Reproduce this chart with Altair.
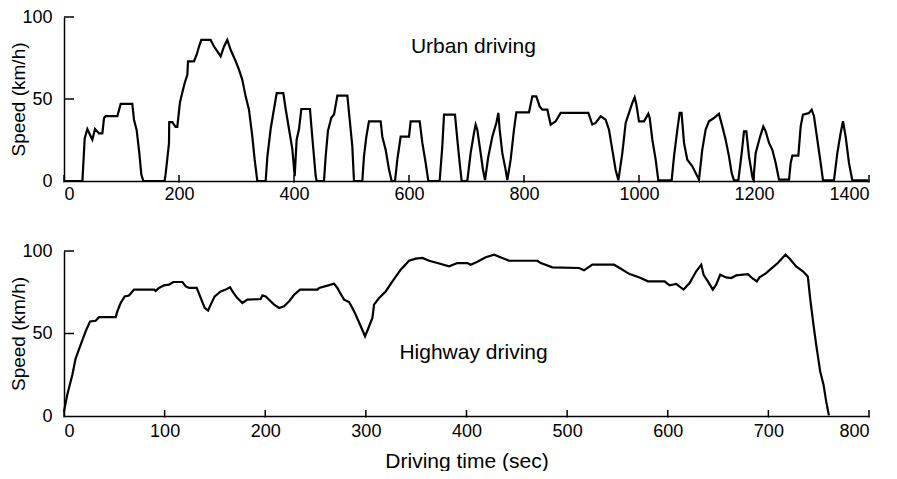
import altair as alt
import pandas as pd

# ---------------- data ----------------
urban_t = [0, 32, 36, 40.6, 49.3, 53.9, 60.9, 66.7, 69.6, 72.5, 92.8, 98.6, 118.8, 121.7, 126.4, 131, 134.5, 138,
           175, 176.8, 182.6, 183, 188.4, 194, 197, 201.7, 205.8, 209.9, 214.5, 215.7, 226.1, 230.7, 234.8, 238.8,
           255, 260.9, 266.7, 272.5, 278.3, 284, 289.8, 298.6, 304.3, 310, 315.9, 321.7, 327.5, 331.6, 336.2,
           350.7, 353.6, 359.4, 365.2, 369.9, 381.4, 385.5, 391.3, 397.1, 401.2, 404.6, 408.7, 412.8, 427.8,
           430.1, 433.6, 437.7, 439.4, 452.2, 455, 459, 464.9, 469.6, 475.4, 492.8, 495.7, 501.4, 504.3,
           518.8, 521.7, 525.8, 530.4, 550.7, 553.6, 559.4, 565.2, 569.8, 575.7, 579.7, 585.5, 600, 602.9,
           618.6, 623.2, 629, 633.6, 653.3, 657.9, 660.9, 680, 684.1, 688.1, 691.6, 701.4, 707.2, 713, 715.9,
           718.8, 724.6, 728.7, 732.2, 738, 744.9, 751.9, 755.4, 757.7, 762.3, 768.1, 771, 776.8, 782.6, 786.7,
           808.7, 814.5, 821.4, 827.2, 831.9, 840.6, 846.4, 855.1, 863.8, 911.9, 918.8, 924.6, 933.3, 942,
           947.8, 953.6, 959.4, 964.1, 971, 976.8, 982.6, 988.4, 992.5, 995.4, 1000, 1008.7, 1016.2, 1018.6,
           1023.2, 1029, 1033.6, 1056.8, 1060.9, 1066.7, 1070.7, 1074, 1078.3, 1084, 1092.8, 1104.3, 1110,
           1115.9, 1121.7, 1130.4, 1139, 1144.9, 1150.7, 1156.5, 1161.2, 1165.2, 1172.8, 1178.6, 1182.6,
           1186.7, 1191.3, 1197, 1198.8, 1202.9, 1209.9, 1216.2, 1220.3, 1226.1, 1231.9, 1237.7, 1243.5,
           1260.9, 1263.8, 1266.7, 1277.1, 1281.2, 1285.2, 1295.7, 1300.3, 1304.3, 1310.1, 1315.9, 1320,
           1339.1, 1344.9, 1350.7, 1354.8, 1359.4, 1365.2, 1371, 1398.8]
urban_v = [0, 0, 26, 31.7, 25.2, 31.7, 29, 29, 38.4, 39.5, 39.5, 47, 47, 37.4, 31, 17, 3.9, 0,
           0, 4.5, 23, 35.9, 35.9, 33, 33, 48, 54, 59.8, 64.8, 73, 73, 77, 82, 86,
           86, 82, 79, 76, 82, 86, 80, 73, 67.9, 61.8, 51.6, 43.5, 27.2, 13, 0,
           0, 14.6, 31.7, 43.9, 53.6, 53.6, 43.9, 31.7, 19.5, 3, 25.2, 31.7, 43.9, 43.9,
           33.8, 19.5, 3, 0, 0, 14.6, 30.5, 38.6, 40.5, 52, 52, 41.5, 21.2, 0,
           0, 15, 27, 36.4, 36.4, 27, 19, 7, 0, 0, 13, 27, 27, 36.4,
           36.4, 23.2, 11, 0, 0, 21, 40.5, 40.5, 25, 11, 0, 0, 17, 29.3, 34.4,
           31.3, 17, 6.7, 0.6, 15, 27, 35.4, 41.5, 31.3, 17, 6.7, 0.6, 13, 31.3, 41.9,
           41.9, 51.6, 51.6, 45.5, 43.5, 43.5, 34.4, 36.4, 41.5, 41.5, 34.4, 35.4, 39.5, 37.4,
           31.3, 19, 6.7, 0.4, 17, 35.4, 41.5, 47.6, 51, 46.6, 36.4, 36.4, 41, 38.4,
           25.2, 13, 0.4, 0.4, 15, 31.3, 41.5, 41.5, 23.2, 13, 9, 0.8, 19,
           31.3, 36.4, 38.4, 41, 33.3, 25.2, 15, 4.8, 0.4, 0.4, 17, 30.3,
           30.3, 15, 2.8, 0.4, 17, 26.2, 33.3, 30.3, 23.2, 19, 11, 0.8,
           0.8, 11, 15.5, 15.5, 33.3, 40.5, 41.5, 43.5, 39.5, 25.2, 11, 0.4,
           0.4, 17, 29.3, 36.4, 27, 11, 0.4, 0.4]

highway_t = [0, 3.3, 8.3, 11.6, 16.6, 21.5, 25.8, 31.5, 34.8, 51.4, 53, 56.3, 60.3, 64.6, 69.6, 89.5, 91.1,
             94.4, 99.4, 104.4, 108.7, 117.7, 121, 124.3, 131.9, 135.9, 139.8, 143.2, 145.8, 149.8, 155.7,
             160.7, 165, 167.3, 171.6, 177.3, 182.2, 195.5, 197.2, 200.5, 203.8, 208.8, 213.8, 218.7, 223.7,
             228.7, 234.6, 251.9, 253.5, 261.8, 268.4, 271.7, 274.4, 278.3, 283.3, 286.6, 289.9, 294.9, 299.2,
             303.2, 306.5, 308.1, 313.1, 319.7, 326.4, 334.6, 342.9, 349.6, 356.2, 362.8, 371.1, 382.7, 391,
             400.9, 404.2, 410.8, 419.1, 427.4, 435.6, 442.3, 470.4, 473.8, 485.4, 511.9, 516.8, 525.1, 546.6,
             552.2, 562.1, 572, 580.3, 596.9, 601.8, 608.4, 615.7, 621.7, 628.3, 633.3, 635.6, 639.9, 644.8,
             648.1, 652.1, 658.1, 663, 668, 679.6, 684.6, 688.5, 691.2, 697.8, 702.8, 709.4, 717, 721, 727.6,
             734.3, 739.2, 741.5, 744.8, 747.5, 751.5, 754.8, 757.4, 760.1]
highway_v = [2.8, 13, 25, 35, 43.2, 51.3, 57.3, 57.7, 59.9, 59.9, 63.4, 68.5, 72.5, 73, 76.6, 76.6, 75.8,
             77.6, 79.2, 79.6, 81.2, 81.2, 78.6, 77.6, 77.6, 71.5, 65.5, 63.9, 67.5, 72.5, 75.5,
             76.6, 78, 75.6, 71.9, 68.5, 70.5, 70.9, 73.1, 72.5, 70.5, 67.5, 65.5, 66.5, 69.5,
             73.5, 76.6, 76.6, 77.6, 79, 80.2, 77.6, 74.6, 70.5, 69.1, 65.5, 61.4, 54.4, 48.3,
             54.4, 59.4, 67.5, 71.5, 75.5, 81.6, 88.7, 94.1, 95.4, 95.8, 94.1, 92.7, 90.7, 92.7,
             92.7, 91.7, 93.5, 96.2, 97.8, 95.8, 94.1, 94.1, 92.7, 90.1, 89.7, 88.3, 91.7, 91.7,
             89.7, 86, 84, 81.6, 81.6, 79.2, 80, 76.6, 80.6, 87.7, 91.7, 85.6, 81.6, 76.6,
             79.6, 85.6, 84, 83.6, 85.2, 86, 83.2, 81.6, 84, 86.6, 89.3, 92.7, 97.8, 95.4, 90.7,
             87.7, 84.6, 71.5, 55.4, 43.2, 27, 19, 9, 0.4]

urban_xticks = [0, 200, 400, 600, 800, 1000, 1200, 1400]
highway_xticks = [0, 100, 200, 300, 400, 500, 600, 700, 800]
speed_ticks = [0, 50, 100]

FONT = "Liberation Sans"
W = 805


def panel(t, v, xmax, xticks, label, label_t, label_v, height, xtitle, label_pad):
    df = pd.DataFrame({"t": t, "v": v})
    xscale = alt.Scale(domain=[0, xmax], nice=False, zero=False)
    yscale = alt.Scale(domain=[0, 100], nice=False)
    if xtitle:
        xaxis = alt.Axis(values=xticks, ticks=False, format="d", title=xtitle, labelPadding=label_pad,
                         titlePadding=10, grid=False)
    else:
        xaxis = alt.Axis(values=xticks, ticks=False, format="d", title=None, labelPadding=label_pad,
                         grid=False)
    yaxis = alt.Axis(values=speed_ticks, ticks=False, format="d", title="Speed (km/h)", labelPadding=12,
                     titleX=-36, titleFontSize=19, grid=False)
    X = alt.X("t:Q", scale=xscale, axis=xaxis)
    Y = alt.Y("v:Q", scale=yscale, axis=yaxis)
    line = alt.Chart(df).mark_line(color="black", strokeWidth=2.2, interpolate="linear").encode(x=X, y=Y)
    # inward-pointing tick marks
    xt = alt.Chart(pd.DataFrame({"t": xticks})).mark_rule(color="black", strokeWidth=1.5).encode(
        x=X,
        y=alt.value(height + 1.5),
        y2=alt.value(height - 6),
    )
    yt = alt.Chart(pd.DataFrame({"v": speed_ticks[1:]})).mark_rule(color="black", strokeWidth=1.5).encode(
        y=Y,
        x=alt.value(0),
        x2=alt.value(10),
    )
    txt = alt.Chart(pd.DataFrame({"t": [label_t], "v": [label_v], "s": [label]})).mark_text(
        font=FONT, fontSize=21, color="black", align="center", baseline="middle"
    ).encode(x=X, y=Y, text="s:N")
    return alt.layer(line, xt, yt, txt).properties(width=W, height=height)


top = panel(urban_t, urban_v, 1400, urban_xticks, "Urban driving", 712, 82, 164, None, 4)
bottom = panel(highway_t, highway_v, 800, highway_xticks, "Highway driving", 407, 38, 165,
               "Driving time (sec)", 6)

chart = alt.vconcat(top, bottom, spacing=39).properties(
    padding={"left": 0, "top": 0, "right": 0, "bottom": 0}
).configure_view(stroke=None).configure_axis(
    labelFont=FONT, labelFontSize=18, labelColor="black",
    titleFont=FONT, titleFontSize=21, titleFontWeight="normal", titleColor="black",
    domainColor="black", domainWidth=1.5,
)

chart.save("out.html", embed_options={"renderer": "svg", "actions": False})
